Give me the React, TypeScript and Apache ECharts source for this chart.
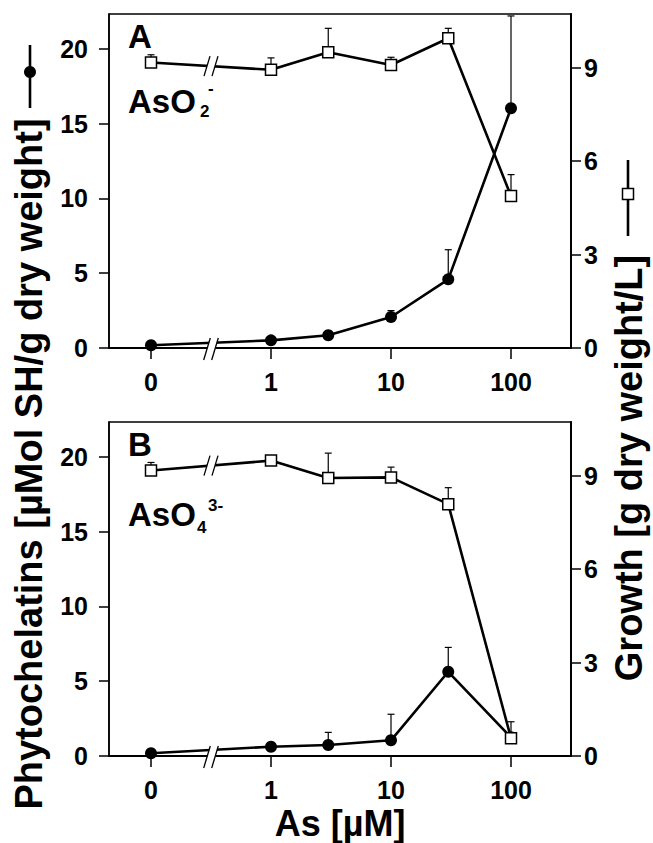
import React, { useEffect, useRef } from 'react';
import * as echarts from 'echarts';

// Arsenic concentrations (µM); 0 is the untreated control on the broken part of the axis
const concentrations = [0, 1, 3, 10, 30, 100];
const xTickValues = [0, 1, 10, 100];
const xTickLabels = ['0', '1', '10', '100'];
const leftTicks = [0, 5, 10, 15, 20];
const rightTicks = [0, 3, 6, 9];

// Panel A: arsenite (AsO2-)
const pcA = [0.18, 0.51, 0.85, 2.07, 4.59, 16.03];
const pcSdA = [0, 0, 0, 0.43, 1.98, 6.17];
const growthA = [9.17, 8.94, 9.5, 9.09, 9.95, 4.88];
const growthSdA = [0.25, 0.38, 0.77, 0.25, 0.32, 0.69];

// Panel B: arsenate (AsO4 3-)
const pcB = [0.18, 0.62, 0.74, 1.05, 5.63, 1.25];
const pcSdB = [0, 0, 0.84, 1.74, 1.63, 0];
const growthB = [9.17, 9.49, 8.93, 8.95, 8.09, 0.57];
const growthSdB = [0.26, 0, 0.8, 0.33, 0.53, 0.53];

const FONT = '"Liberation Sans", Arial, Helvetica, sans-serif';

// broken log axis: the control (0) sits one decade to the left of 1 µM
const axisPos = (c: number) => (c === 0 ? -1 : Math.log10(c));

const X_MIN = -1.35;
const X_MAX = 2.5;
const BREAK_X = -0.5;
const LEFT_MAX = 22.33;
const RIGHT_MAX = 10.73;
const GRID_LEFT = 109;
const GRID_WIDTH = 462;
const GRID_HEIGHT = 334;

const panels = [
  { top: 14, pc: pcA, pcSd: pcSdA, growth: growthA, growthSd: growthSdA },
  { top: 422, pc: pcB, pcSd: pcSdB, growth: growthB, growthSd: growthSdB },
];

const errorBarSeries = (xAxisIndex: number, yAxisIndex: number, values: number[], sd: number[]) => ({
  type: 'custom',
  xAxisIndex,
  yAxisIndex,
  z: 1,
  silent: true,
  data: concentrations
    .map((c, i) => [axisPos(c), values[i], values[i] + sd[i]])
    .filter((d, i) => sd[i] > 0),
  renderItem: (params: any, api: any) => {
    const x = api.value(0);
    const p0 = api.coord([x, api.value(1)]);
    const p1 = api.coord([x, api.value(2)]);
    return {
      type: 'group',
      children: [
        { type: 'line', shape: { x1: p0[0], y1: p0[1], x2: p1[0], y2: p1[1] }, style: { stroke: '#000', lineWidth: 1.2 } },
        { type: 'line', shape: { x1: p1[0] - 3.5, y1: p1[1], x2: p1[0] + 3.5, y2: p1[1] }, style: { stroke: '#000', lineWidth: 1.2 } },
      ],
    };
  },
});

const tickLabelStyle = { fontSize: 25, fontWeight: 'bold' as const, color: '#000', fontFamily: FONT };

const breakMark = (cx: number, cy: number, h: number) => {
  const dx = h * 0.3;
  const gap = 4;
  return [
    {
      type: 'polygon',
      z: 100,
      shape: { points: [[cx - gap - dx, cy + h], [cx - gap + dx, cy - h], [cx + gap + dx, cy - h], [cx + gap - dx, cy + h]] },
      style: { fill: '#fff' },
    },
    { type: 'line', z: 101, shape: { x1: cx - gap - dx, y1: cy + h, x2: cx - gap + dx, y2: cy - h }, style: { stroke: '#000', lineWidth: 1.3 } },
    { type: 'line', z: 101, shape: { x1: cx + gap - dx, y1: cy + h, x2: cx + gap + dx, y2: cy - h }, style: { stroke: '#000', lineWidth: 1.3 } },
  ];
};

const text = (t: string, x: number, y: number, fontSize: number, align = 'left', rotation = 0) => ({
  type: 'text',
  z: 100,
  x,
  y,
  rotation,
  style: {
    text: t,
    fontSize,
    fontWeight: 'bold',
    fontFamily: FONT,
    fill: '#000',
    align,
    verticalAlign: 'middle',
    textAlign: align,
    textVerticalAlign: 'middle',
  },
});

export default function App() {
  const ref = useRef<HTMLDivElement>(null);

  useEffect(() => {
    if (!ref.current) return;
    const chart = echarts.init(ref.current, null, { renderer: 'svg' });

    const grids = panels.map((p) => ({
      left: GRID_LEFT,
      top: p.top,
      width: GRID_WIDTH,
      height: GRID_HEIGHT,
      show: true,
      borderColor: '#000',
      borderWidth: 1.5,
      backgroundColor: 'transparent',
    }));

    const xAxes = panels.map((p, i) => ({
      type: 'value',
      gridIndex: i,
      min: X_MIN,
      max: X_MAX,
      axisLine: { show: true, onZero: false, lineStyle: { color: '#000', width: 2 } },
      axisTick: { show: true, length: 11, customValues: xTickValues.map(axisPos), lineStyle: { color: '#000', width: 1.5 } },
      axisLabel: {
        ...tickLabelStyle,
        margin: 21,
        customValues: xTickValues.map(axisPos),
        formatter: (v: number) => xTickLabels[xTickValues.findIndex((t) => Math.abs(axisPos(t) - v) < 1e-6)] ?? '',
      },
      splitLine: { show: false },
    }));

    const yAxes: any[] = [];
    panels.forEach((p, i) => {
      yAxes.push({
        type: 'value',
        gridIndex: i,
        position: 'left',
        min: 0,
        max: LEFT_MAX,
        axisLine: { show: true, onZero: false, lineStyle: { color: '#000', width: 1.5 } },
        axisTick: { show: true, length: 10, customValues: leftTicks, lineStyle: { color: '#000', width: 1.5 } },
        axisLabel: { ...tickLabelStyle, margin: 21, customValues: leftTicks },
        splitLine: { show: false },
      });
      yAxes.push({
        type: 'value',
        gridIndex: i,
        position: 'right',
        min: 0,
        max: RIGHT_MAX,
        axisLine: { show: true, onZero: false, lineStyle: { color: '#000', width: 2 } },
        axisTick: { show: true, length: 10, customValues: rightTicks, lineStyle: { color: '#000', width: 1.5 } },
        axisLabel: { ...tickLabelStyle, margin: 13, customValues: rightTicks },
        splitLine: { show: false },
      });
    });

    const series: any[] = [];
    panels.forEach((p, i) => {
      const yl = 2 * i;
      const yr = 2 * i + 1;
      series.push(errorBarSeries(i, yl, p.pc, p.pcSd));
      series.push(errorBarSeries(i, yr, p.growth, p.growthSd));
      series.push({
        type: 'line',
        xAxisIndex: i,
        yAxisIndex: yl,
        z: 3,
        data: concentrations.map((c, k) => [axisPos(c), p.pc[k]]),
        symbol: 'circle',
        symbolSize: 12,
        itemStyle: { color: '#000' },
        lineStyle: { color: '#000', width: 2.6 },
      });
      series.push({
        type: 'line',
        xAxisIndex: i,
        yAxisIndex: yr,
        z: 4,
        data: concentrations.map((c, k) => [axisPos(c), p.growth[k]]),
        symbol: 'rect',
        symbolSize: 11,
        itemStyle: { color: '#fff', borderColor: '#000', borderWidth: 1.5 },
        lineStyle: { color: '#000', width: 2.6 },
      });
    });

    chart.setOption({
      animation: false,
      grid: grids,
      xAxis: xAxes,
      yAxis: yAxes,
      series,
    });

    // break marks on the x axes and on the growth lines between 0 and 1 µM
    const graphics: any[] = [];
    panels.forEach((p, i) => {
      const axisPt = chart.convertToPixel({ xAxisIndex: i, yAxisIndex: 2 * i }, [BREAK_X, 0]) as number[];
      graphics.push(...breakMark(axisPt[0], axisPt[1] + 1, 11));
      const a = chart.convertToPixel({ xAxisIndex: i, yAxisIndex: 2 * i + 1 }, [axisPos(concentrations[0]), p.growth[0]]) as number[];
      const b = chart.convertToPixel({ xAxisIndex: i, yAxisIndex: 2 * i + 1 }, [axisPos(concentrations[1]), p.growth[1]]) as number[];
      graphics.push(...breakMark((a[0] + b[0]) / 2, (a[1] + b[1]) / 2, 10));
    });

    // panel letters and ion labels
    graphics.push(text('A', 128, 36, 33));
    graphics.push(text('AsO', 128, 101, 33));
    graphics.push(text('2', 200, 111, 17));
    graphics.push(text('-', 208, 88, 17));
    graphics.push(text('B', 128, 444, 33));
    graphics.push(text('AsO', 128, 514, 33));
    graphics.push(text('4', 197, 527, 17));
    graphics.push(text('3-', 208, 505, 17));

    // axis titles
    graphics.push(text('Phytochelatins [µMol SH/g dry weight]', 29, 464, 38, 'center', Math.PI / 2));
    graphics.push(text('Growth [g dry weight/L]', 629, 468, 38, 'center', Math.PI / 2));
    graphics.push(text('As [µM]', 340, 823, 36, 'center'));

    // legend keys at the ends of the axis titles
    graphics.push({ type: 'line', z: 100, shape: { x1: 30, y1: 45, x2: 30, y2: 108 }, style: { stroke: '#000', lineWidth: 2.6 } });
    graphics.push({ type: 'circle', z: 101, shape: { cx: 30, cy: 72, r: 6 }, style: { fill: '#000' } });
    graphics.push({ type: 'line', z: 100, shape: { x1: 628, y1: 160, x2: 628, y2: 236 }, style: { stroke: '#000', lineWidth: 2.6 } });
    graphics.push({ type: 'rect', z: 101, shape: { x: 622.5, y: 188.5, width: 11, height: 11 }, style: { fill: '#fff', stroke: '#000', lineWidth: 1.5 } });

    chart.setOption({ graphic: { elements: graphics } });

    return () => chart.dispose();
  }, []);

  return (
    <div
      ref={ref}
      style={{ position: 'absolute', left: 0, top: 0, width: 653, height: 843, background: '#fff' }}
    />
  );
}
